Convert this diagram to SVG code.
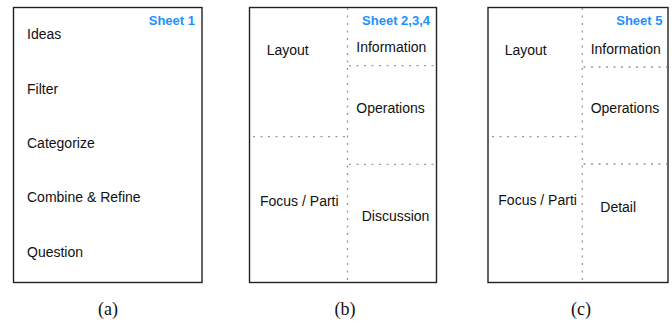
<svg xmlns="http://www.w3.org/2000/svg" width="672" height="324" viewBox="0 0 672 324">
<style>
.frame{fill:#fff;stroke:#222;stroke-width:1.4}
.dot{stroke:#999;stroke-width:1.3;stroke-dasharray:2 5.5;fill:none}
.lbl{font-family:"Liberation Sans",Arial,sans-serif;font-size:14px;fill:#111}
.sheet{font-family:"Liberation Sans",Arial,sans-serif;font-size:13px;font-weight:bold;fill:#1E90FF;text-anchor:end}
.cap{font-family:"Liberation Serif","Times New Roman",serif;font-size:18px;fill:#111;text-anchor:middle}
</style>
<rect width="672" height="324" fill="#fff"/>
<g id="panel-a">
<rect class="frame" x="13.5" y="7.5" width="188.5" height="275"/>
<text class="sheet" x="195" y="25">Sheet 1</text>
<text class="lbl" x="27" y="39">Ideas</text>
<text class="lbl" x="27" y="93.5">Filter</text>
<text class="lbl" x="27" y="148">Categorize</text>
<text class="lbl" x="27" y="202">Combine &amp; Refine</text>
<text class="lbl" x="27" y="256.5">Question</text>
<text class="cap" x="108" y="315">(a)</text>
</g>
<g id="panel-b">
<rect class="frame" x="249.5" y="7.5" width="187" height="275"/>
<g id="dividers-b">
<line class="dot" x1="347.5" y1="8" x2="347.5" y2="282"/>
<line class="dot" x1="253" y1="136.7" x2="347.5" y2="136.7"/>
<line class="dot" x1="349" y1="65.7" x2="436" y2="65.7"/>
<line class="dot" x1="349" y1="164.3" x2="436" y2="164.3"/>
</g>
<text class="sheet" x="430" y="25">Sheet 2,3,4</text>
<text class="lbl" x="266.7" y="55">Layout</text>
<text class="lbl" x="356.3" y="52">Information</text>
<text class="lbl" x="356.3" y="113">Operations</text>
<text class="lbl" x="260" y="205.5">Focus / Parti</text>
<text class="lbl" x="361.7" y="220.5">Discussion</text>
<text class="cap" x="345" y="315">(b)</text>
</g>
<g id="panel-c">
<rect class="frame" x="488" y="7.5" width="180" height="275"/>
<g id="dividers-c">
<line class="dot" x1="582.3" y1="8" x2="582.3" y2="282"/>
<line class="dot" x1="492" y1="136.7" x2="582.3" y2="136.7"/>
<line class="dot" x1="583.5" y1="67" x2="667" y2="67"/>
<line class="dot" x1="583.5" y1="164" x2="667" y2="164"/>
</g>
<text class="sheet" x="662.5" y="25">Sheet 5</text>
<text class="lbl" x="504.7" y="55">Layout</text>
<text class="lbl" x="590.7" y="53.7">Information</text>
<text class="lbl" x="590.7" y="113">Operations</text>
<text class="lbl" x="498.3" y="205">Focus / Parti</text>
<text class="lbl" x="600.3" y="212.3">Detail</text>
<text class="cap" x="581" y="315">(c)</text>
</g>
</svg>
